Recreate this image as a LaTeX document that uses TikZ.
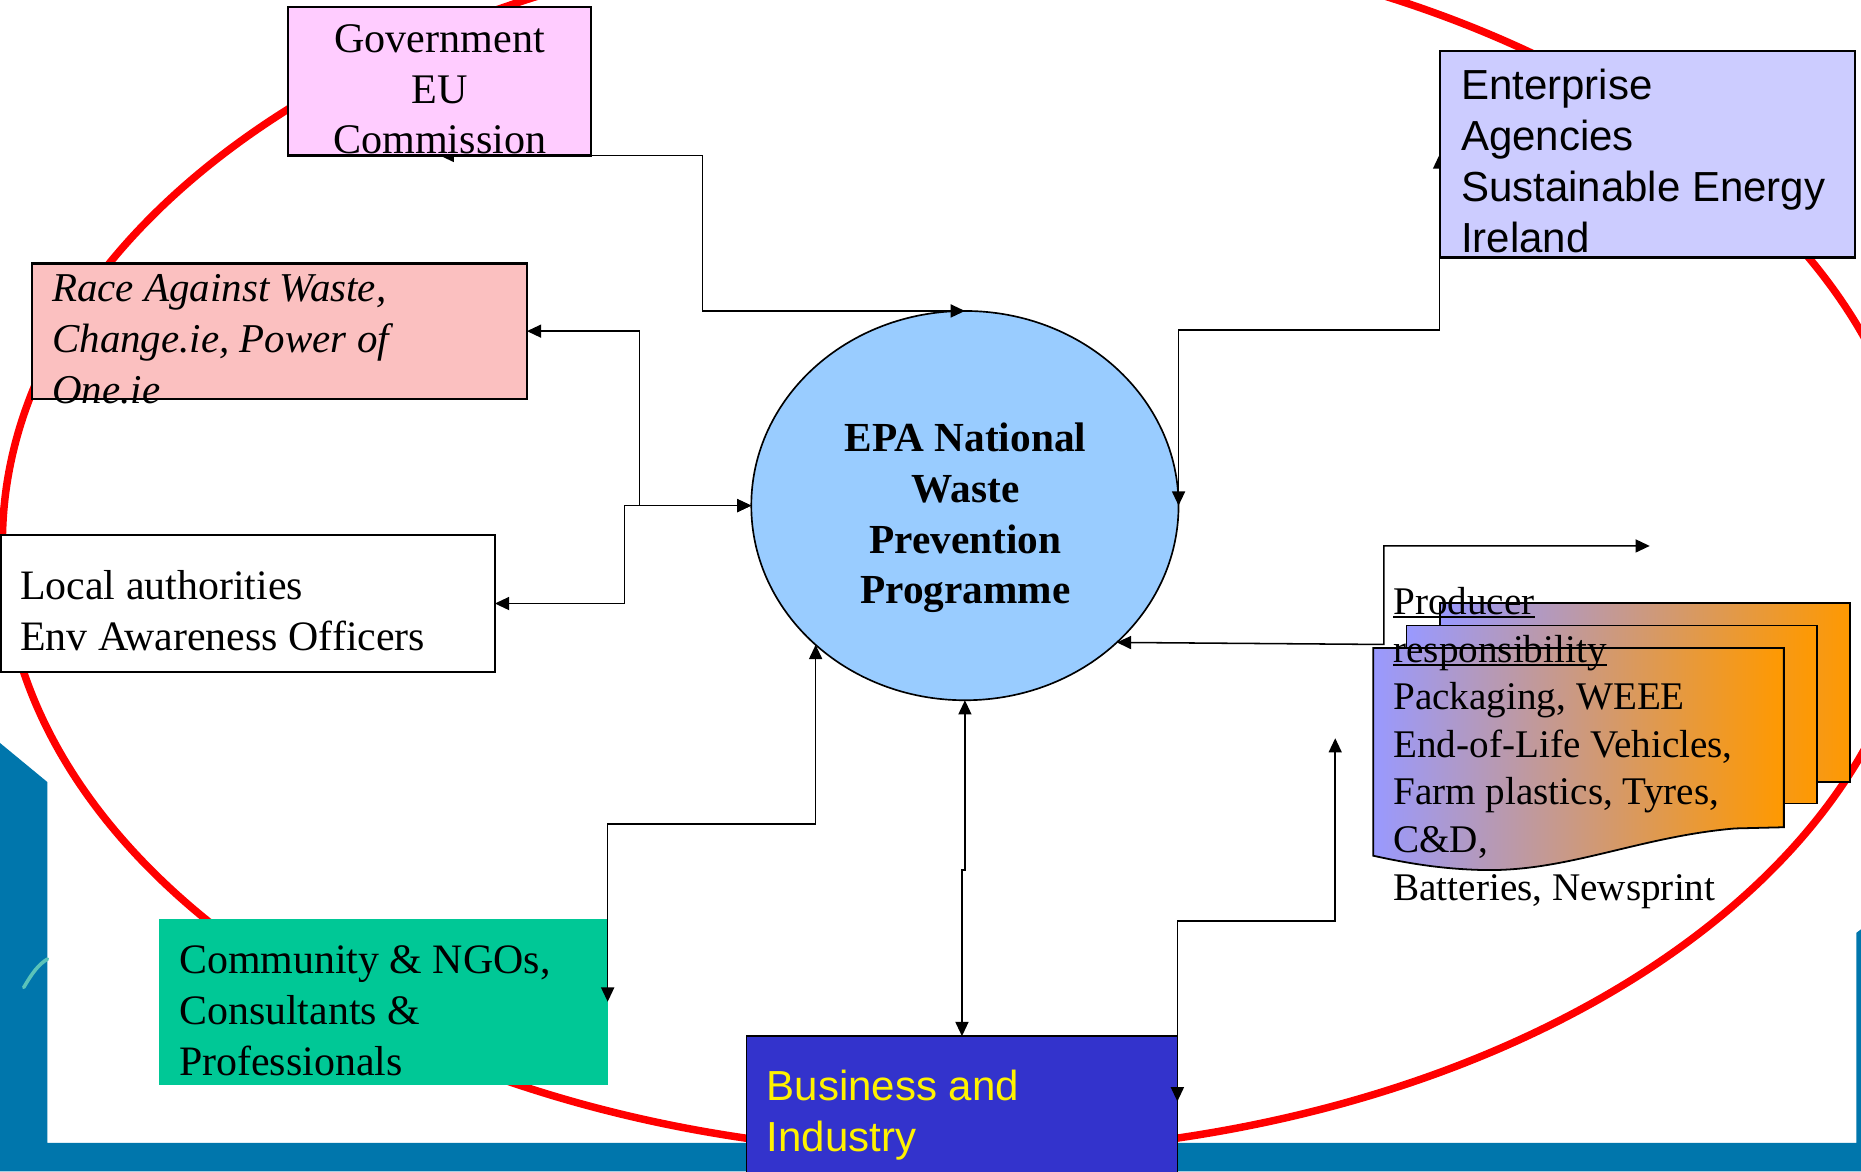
\documentclass[tikz,border=0pt]{standalone}
\usepackage{fontspec}
\setmainfont{Liberation Serif}
\setsansfont{Liberation Sans}
\usetikzlibrary{arrows.meta,shapes.geometric,calc}
\pgfdeclarelayer{bg}
\pgfdeclarelayer{mid}
\pgfsetlayers{bg,mid,main}
\definecolor{slideblue}{RGB}{0,118,172}
\definecolor{govpink}{RGB}{255,204,255}
\definecolor{racepink}{RGB}{251,192,192}
\definecolor{entblue}{RGB}{204,204,255}
\definecolor{epablue}{RGB}{153,204,255}
\definecolor{commgreen}{RGB}{0,200,150}
\definecolor{bizblue}{RGB}{51,51,204}
\definecolor{docblue}{RGB}{153,153,255}
\definecolor{docorange}{RGB}{255,153,0}
\definecolor{swoosh}{RGB}{90,195,185}
\begin{document}
\begin{tikzpicture}[x=1pt,y=-1pt,
  >={Triangle[length=12pt,width=11pt]},
  conn/.style={line width=1.3pt,<->},
  box/.style={anchor=north west,inner sep=0pt,outer sep=0pt,line width=1.8pt},
  lbl/.style={inner sep=0pt,outer sep=0pt,anchor=base west},
  clbl/.style={inner sep=0pt,outer sep=0pt,anchor=base},
  fgov/.style={font=\fontsize{35.5pt}{42pt}\selectfont},
  frace/.style={font=\fontsize{34.5pt}{42pt}\selectfont\itshape},
  floc/.style={font=\fontsize{35.3pt}{42pt}\selectfont},
  fsans/.style={font=\fontsize{35.4pt}{42pt}\selectfont\sffamily},
  fepa/.style={font=\fontsize{34.8pt}{42pt}\selectfont\bfseries},
  fprod/.style={font=\fontsize{33pt}{40pt}\selectfont},
  docshade/.style={left color=docblue,right color=docorange,draw=black,line width=1.5pt}
]
\useasboundingbox (0,0) rectangle (1568,987);

\begin{pgfonlayer}{bg}
\begin{scope}
\clip (0,0) rectangle (1568,987);
% background
\fill[white] (0,0) rectangle (1568,987);
\fill[slideblue] (0,626) -- (40,659) -- (40,963) -- (1564,963) -- (1564,786) -- (1568,783) -- (1568,987) -- (0,987) -- cycle;
\draw[swoosh,line width=3pt,line cap=round] (20,832) .. controls (27,820) and (32,813) .. (40,808);
% red ring
\draw[red,line width=6.3pt] (810,458) ellipse [x radius=808pt,y radius=514pt];

% boxes lying under the connectors
\node[box,fill=commgreen,minimum width=378pt,minimum height=140pt] (comm) at (134,774) {};
\node[lbl,floc] (comm1) at (151,820) {Community \& NGOs,};
\node[lbl,floc] (comm2) at (151,863) {Consultants \&};
\node[lbl,floc] (comm3) at (151,906) {Professionals};

\node[box,draw=black,line width=1.3pt,fill=bizblue,minimum width=363pt,minimum height=140pt] (biz) at (629,873) {};
\node[lbl,fsans,text=yellow] (biz1) at (646,927) {Business and};
\node[lbl,fsans,text=yellow] (biz2) at (646,970) {Industry};

% central ellipse
\node[ellipse,draw=black,line width=1.4pt,fill=epablue,inner sep=0pt,outer sep=0pt,
      minimum width=360pt,minimum height=328pt] (epa) at (813,426) {};
\node[clbl,fepa] (epa1) at (813.5,380) {EPA National};
\node[clbl,fepa] (epa2) at (813.5,423) {Waste};
\node[clbl,fepa] (epa3) at (813.5,466) {Prevention};
\node[clbl,fepa] (epa4) at (813.5,508.5) {Programme};

% producer responsibility documents
\shadedraw[docshade] (1213,508) rectangle (1559,659);
\shadedraw[docshade] (1185,527) rectangle (1531,677);
\shadedraw[docshade] (1157,546) -- (1503,546) -- (1503,697) -- (1462,698)
   .. controls (1380,705) and (1320,735) .. (1248,733)
   .. controls (1210,732) and (1180,726) .. (1157,721) -- cycle;
\node[lbl,fprod] (pr1) at (1174,517.5) {Producer};
\node[lbl,fprod] (pr2) at (1174,558) {responsibility};
\node[lbl,fprod] (pr3) at (1174,598) {Packaging, WEEE};
\node[lbl,fprod] (pr4) at (1174,638) {End-of-Life Vehicles,};
\node[lbl,fprod] (pr5) at (1174,678) {Farm plastics, Tyres,};
\node[lbl,fprod] (pr6) at (1174,718.5) {C\&D,};
\node[lbl,fprod] (pr7) at (1174,759) {Batteries, Newsprint};
\draw[line width=1.6pt] ([yshift=-2.5pt]pr1.base west) -- ([yshift=-2.5pt]pr1.base east);
\draw[line width=1.6pt] ([yshift=-2.5pt]pr2.base west) -- ([yshift=-2.5pt]pr2.base east);
\end{scope}
\end{pgfonlayer}

% boxes lying over the connectors
\node[box,draw=black,fill=govpink,minimum width=255pt,minimum height=125pt] (gov) at (243,6) {};
\node[clbl,fgov] (gov1) at (370.5,44) {Government};
\node[clbl,fgov] (gov2) at (370.5,87) {EU};
\node[clbl,fgov] (gov3) at (370.5,129) {Commission};

\node[box,draw=black,fill=entblue,minimum width=350pt,minimum height=174pt] (ent) at (1213,43) {};
\node[lbl,fsans] (ent1) at (1231,84) {Enterprise};
\node[lbl,fsans] (ent2) at (1231,127) {Agencies};
\node[lbl,fsans] (ent3) at (1231,169.5) {Sustainable Energy};
\node[lbl,fsans] (ent4) at (1231,212.5) {Ireland};

\node[box,draw=black,fill=racepink,minimum width=417pt,minimum height=114pt] (race) at (27,222) {};
\node[lbl,frace] (race1) at (44,254) {Race Against Waste,};
\node[lbl,frace] (race2) at (44,297) {Change.ie, Power of};
\node[lbl,frace] (race3) at (44,340) {One.ie};

\node[box,draw=black,fill=white,minimum width=416pt,minimum height=115pt] (local) at (1,451) {};
\node[lbl,floc] (loc1) at (17,505.5) {Local authorities};
\node[lbl,floc] (loc2) at (17,548) {Env Awareness Officers};

% free ends
\coordinate (prodout) at (1390,460);
\coordinate (produp) at (1125,622);

% connectors
\begin{pgfonlayer}{mid}
\draw[conn] (gov.south) -- (592,131) |- (epa.north);
\draw[conn] (race.east) -- (539,279) |- (epa.west);
\draw[conn] (local.east) -- (526,508.5) |- (epa.west);
\draw[conn] (ent.west) -- (1213,278) -| (epa.east);
\draw[conn] (prodout) -- (1166,460) -- (1166,543) -- (epa.-42.9);
\draw[conn] (epa.-137.6) -- ++(0,151) -| ([yshift=-70pt]comm.north east);
\draw[conn] (epa.south) -- ++(0,143) -| (biz.north);
\draw[conn] (produp) -- (1125,776) -| ([yshift=-55pt]biz.north east);
\end{pgfonlayer}
\end{tikzpicture}
\end{document}
